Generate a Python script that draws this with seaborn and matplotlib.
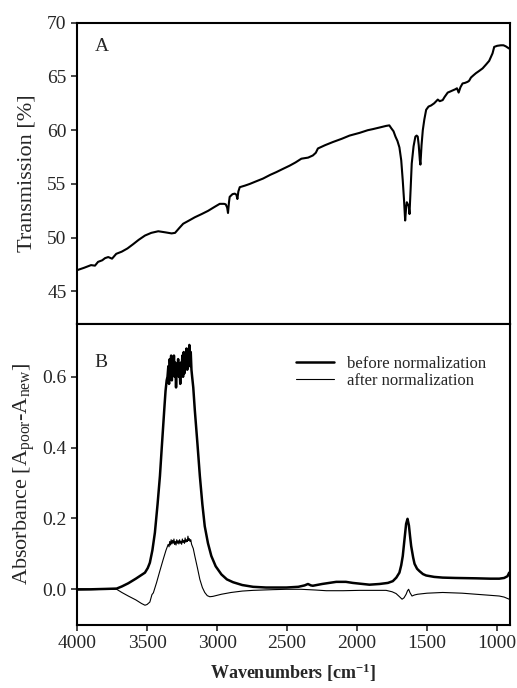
import matplotlib
matplotlib.use("Agg")
import matplotlib.pyplot as plt
import seaborn as sns
import pandas as pd

# panel A: transmission spectrum
top_wn = [3995, 3950, 3900, 3872, 3850, 3820, 3800, 3777, 3750, 3720, 3681, 3640,
          3599, 3560, 3515, 3470, 3420, 3370, 3325, 3300, 3270, 3242, 3200, 3159,
          3110, 3064, 3020, 2981, 2950, 2938, 2928, 2922, 2915, 2910, 2890, 2874,
          2862, 2855, 2848, 2838, 2800, 2767, 2720, 2672, 2620, 2577, 2530, 2482,
          2440, 2398, 2350, 2316, 2295, 2280, 2230, 2173, 2110, 2054, 1983, 1924,
          1888, 1840, 1793, 1770, 1757, 1740, 1726, 1712, 1698, 1685, 1674, 1665,
          1657, 1650, 1645, 1638, 1632, 1626, 1618, 1610, 1597, 1584, 1575, 1567,
          1560, 1552, 1548, 1540, 1531, 1520, 1507, 1490, 1472, 1450, 1435, 1424,
          1410, 1389, 1375, 1353, 1335, 1318, 1300, 1287, 1275, 1262, 1247, 1230,
          1211, 1200, 1187, 1170, 1152, 1130, 1104, 1080, 1057, 1045, 1033, 1021,
          1000, 973, 955, 938, 915]
top_T = [47.0, 47.2, 47.45, 47.4, 47.75, 47.9, 48.1, 48.2, 48.05, 48.5, 48.7, 49.0,
         49.4, 49.8, 50.2, 50.45, 50.6, 50.5, 50.4, 50.45, 50.9, 51.3, 51.6, 51.9,
         52.2, 52.5, 52.85, 53.15, 53.15, 53.1, 52.8, 52.3, 53.3, 53.8, 54.05, 54.1,
         54.0, 53.6, 54.3, 54.7, 54.85, 55.0, 55.25, 55.5, 55.85, 56.1, 56.4, 56.7,
         57.0, 57.35, 57.45, 57.65, 57.9, 58.3, 58.6, 58.9, 59.2, 59.5, 59.75, 60.0,
         60.1, 60.25, 60.4, 60.45, 60.2, 59.9, 59.4, 59.0, 58.4, 57.2, 55.3, 53.5,
         51.6, 52.8, 53.3, 53.1, 53.0, 52.2, 54.5, 56.9, 58.5, 59.4, 59.5, 59.4,
         58.6, 57.2, 56.8, 58.6, 60.0, 61.0, 61.9, 62.2, 62.3, 62.5, 62.7, 62.85,
         62.7, 62.8, 63.1, 63.5, 63.6, 63.7, 63.8, 63.9, 63.5, 64.0, 64.35, 64.4,
         64.5, 64.6, 64.9, 65.1, 65.3, 65.5, 65.75, 66.1, 66.45, 66.8, 67.15, 67.75,
         67.85, 67.9, 67.9, 67.8, 67.6]

# panel B: difference spectra
before_wn = [3995, 3900, 3800, 3717, 3680, 3634, 3580, 3515, 3495, 3480, 3462, 3444,
             3425, 3408, 3395, 3385, 3375, 3368, 3360, 3354, 3348, 3343, 3338, 3333,
             3328, 3323, 3318, 3313, 3308, 3303, 3298, 3293, 3288, 3283, 3278, 3273,
             3268, 3263, 3258, 3253, 3248, 3243, 3238, 3233, 3228, 3223, 3218, 3213,
             3208, 3203, 3198, 3193, 3188, 3183, 3178, 3170, 3159, 3140, 3123, 3105,
             3088, 3065, 3041, 3010, 2969, 2930, 2886, 2820, 2743, 2650, 2505, 2420,
             2375, 2351, 2330, 2316, 2250, 2149, 2080, 2031, 1912, 1840, 1780, 1745,
             1720, 1698, 1685, 1674, 1662, 1650, 1640, 1630, 1622, 1614, 1600, 1590,
             1572, 1554, 1530, 1507, 1450, 1389, 1300, 1151, 1050, 985, 950, 926, 914]
before_A = [0.0, 0.0, 0.001, 0.002, 0.008, 0.017, 0.03, 0.047, 0.06, 0.075, 0.11, 0.16,
            0.24, 0.32, 0.40, 0.46, 0.52, 0.56, 0.59, 0.60, 0.63, 0.58, 0.65, 0.61,
            0.66, 0.59, 0.64, 0.62, 0.66, 0.60, 0.64, 0.57, 0.63, 0.61, 0.65, 0.60,
            0.63, 0.58, 0.64, 0.62, 0.66, 0.60, 0.67, 0.61, 0.65, 0.63, 0.68, 0.62,
            0.66, 0.64, 0.69, 0.63, 0.67, 0.62, 0.60, 0.57, 0.506, 0.41, 0.32, 0.24,
            0.178, 0.13, 0.094, 0.065, 0.042, 0.028, 0.02, 0.012, 0.007, 0.005, 0.005, 0.007,
            0.011, 0.015, 0.011, 0.01, 0.015, 0.021, 0.021, 0.018, 0.013, 0.015, 0.018, 0.023,
            0.033, 0.047, 0.068, 0.094, 0.14, 0.185, 0.199, 0.18, 0.15, 0.122, 0.09, 0.072,
            0.058, 0.051, 0.043, 0.039, 0.035, 0.033, 0.032, 0.031, 0.030, 0.030, 0.032, 0.037, 0.047]

after_wn = [3995, 3900, 3800, 3717, 3680, 3634, 3580, 3540, 3515, 3500, 3480, 3465,
            3455, 3432, 3410, 3385, 3365, 3349, 3343, 3338, 3333, 3328, 3323, 3318,
            3313, 3308, 3303, 3298, 3293, 3288, 3283, 3278, 3273, 3268, 3263, 3258,
            3253, 3248, 3243, 3238, 3233, 3228, 3223, 3218, 3213, 3208, 3203, 3198,
            3193, 3188, 3182, 3170, 3159, 3140, 3123, 3105, 3088, 3070, 3052, 3030,
            2969, 2900, 2820, 2743, 2600, 2505, 2400, 2300, 2220, 2100, 1983, 1850,
            1793, 1750, 1722, 1700, 1679, 1665, 1650, 1640, 1632, 1622, 1608, 1590,
            1568, 1500, 1389, 1250, 1151, 1050, 985, 950, 914]
after_A = [-0.002, -0.001, 0.0, 0.0, -0.009, -0.019, -0.03, -0.04, -0.045, -0.043, -0.036, -0.015,
           -0.01, 0.019, 0.05, 0.084, 0.11, 0.127, 0.12, 0.135, 0.125, 0.14, 0.128, 0.138,
           0.13, 0.142, 0.127, 0.135, 0.125, 0.14, 0.13, 0.137, 0.128, 0.14, 0.13, 0.136,
           0.127, 0.142, 0.132, 0.138, 0.13, 0.145, 0.133, 0.14, 0.135, 0.15, 0.138, 0.143,
           0.135, 0.14, 0.127, 0.115, 0.094, 0.06, 0.028, 0.005, -0.009, -0.018, -0.021, -0.02,
           -0.014, -0.009, -0.005, -0.003, -0.001, 0.0, 0.0, -0.002, -0.004, -0.004, -0.003, -0.003,
           -0.003, -0.007, -0.012, -0.02, -0.028, -0.024, -0.014, -0.004, 0.0, -0.01, -0.019, -0.016,
           -0.014, -0.011, -0.009, -0.011, -0.014, -0.017, -0.019, -0.022, -0.028]

sns.set_style("ticks")
plt.rcParams['font.family'] = ['Liberation Serif', 'DejaVu Serif']
plt.rcParams['mathtext.fontset'] = 'custom'
plt.rcParams['mathtext.rm'] = 'Liberation Serif'
plt.rcParams['mathtext.it'] = 'Liberation Serif:italic'
plt.rcParams['mathtext.bf'] = 'Liberation Serif:bold'

df_top = pd.DataFrame({"wn": top_wn, "T": top_T})
df_before = pd.DataFrame({"wn": before_wn, "A": before_A})
df_after = pd.DataFrame({"wn": after_wn, "A": after_A})

fig, (ax1, ax2) = plt.subplots(2, 1, sharex=True, figsize=(5.17, 6.88), dpi=100)
fig.subplots_adjust(left=0.149, right=0.986, top=0.967, bottom=0.092, hspace=0)

sns.lineplot(data=df_top, x="wn", y="T", ax=ax1, color="black", linewidth=1.5,
             estimator=None, sort=False)
sns.lineplot(data=df_before, x="wn", y="A", ax=ax2, color="black", linewidth=1.8,
             estimator=None, sort=False, label="before normalization")
sns.lineplot(data=df_after, x="wn", y="A", ax=ax2, color="black", linewidth=0.8,
             estimator=None, sort=False, label="after normalization")

ax1.set_xlim(4000, 910)
ax1.set_ylim(42, 70)
ax1.set_yticks([45, 50, 55, 60, 65, 70])
ax1.set_ylabel("Transmission [%]", fontsize=16)
ax1.set_xlabel("")
ax1.tick_params(axis="x", length=0)
ax1.text(0.04, 0.92, "A", transform=ax1.transAxes, fontsize=14, va="center")

ax2.set_ylim(-0.1, 0.75)
ax2.set_yticks([0.0, 0.2, 0.4, 0.6])
ax2.set_yticklabels(["0.0", "0.2", "0.4", "0.6"])
ax2.set_xticks([4000, 3500, 3000, 2500, 2000, 1500, 1000])
ax2.set_ylabel(r"Absorbance [A$_{\mathrm{poor}}$-A$_{\mathrm{new}}$]", fontsize=16)
ax2.set_xlabel(r"Wavenumbers [cm$^{\mathbf{-1}}$]", fontsize=13, fontweight="bold", labelpad=7)
ax2.text(0.04, 0.87, "B", transform=ax2.transAxes, fontsize=14, va="center")
ax2.legend(loc="upper right", frameon=False, fontsize=12, handlelength=2.3,
           borderaxespad=1.0, labelspacing=0.05, bbox_to_anchor=(1.0, 0.97))

for ax in (ax1, ax2):
    for sp in ax.spines.values():
        sp.set_linewidth(1.5)
        sp.set_color("black")
    ax.tick_params(axis="both", labelsize=14, width=1.2, length=4, direction="out")

fig.align_ylabels([ax1, ax2])
fig.savefig("out.png", dpi=100)
